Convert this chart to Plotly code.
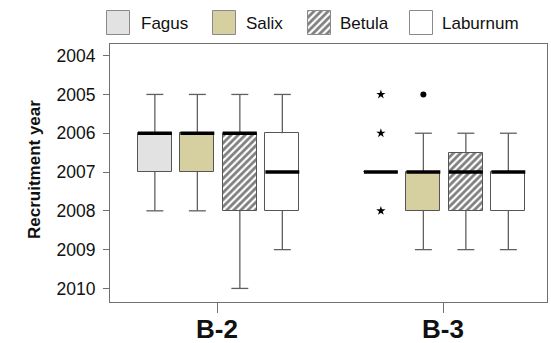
import plotly.graph_objects as go

# ---------------- data ----------------
groups = ["B-2", "B-3"]
species = ["Fagus", "Salix", "Betula", "Laburnum"]
# indexed [species][group]
whisker_min = [[2005, 2007], [2005, 2006], [2005, 2006], [2005, 2006]]
box_q1 = [[2006, 2007], [2006, 2007], [2006, 2006.5], [2006, 2007]]
box_median = [[2006, 2007], [2006, 2007], [2006, 2007], [2007, 2007]]
box_q3 = [[2007, 2007], [2007, 2008], [2008, 2008], [2008, 2008]]
whisker_max = [[2008, 2007], [2008, 2009], [2010, 2009], [2009, 2009]]
# outliers (circle) and extremes (star)
outlier_species = ["Salix"]
outlier_group = ["B-3"]
outlier_year = [2005]
extreme_species = ["Fagus", "Fagus", "Fagus"]
extreme_group = ["B-3", "B-3", "B-3"]
extreme_year = [2005, 2006, 2008]
year_ticks = [2004, 2005, 2006, 2007, 2008, 2009, 2010]

# ---------------- style / layout ----------------
FONT = "Liberation Sans, Arial, sans-serif"
fills = ["#e2e2e2", "#d6cf9f", "white", "white"]
hatched = [False, False, True, False]
GROUP_X = [1, 2]
SLOT = [-0.275, -0.087, 0.101, 0.289]
BOX_W = 0.150
CAP_W = 0.075
EDGE = "#555555"
WHISK = "#606060"
FRAME = "#707070"
PATTERN = dict(shape="/", fgcolor="black", bgcolor="white", size=5, solidity=0.55)

W, H = 551, 343
PLOT_LEFT, PLOT_RIGHT, PLOT_TOP, PLOT_BOTTOM = 110, 547, 44, 302


def pos(si, gi):
    return GROUP_X[gi] + SLOT[si]


fig = go.Figure()

# whiskers
for si, sp in enumerate(species):
    xs, ys = [], []
    for gi in range(len(groups)):
        c = pos(si, gi)
        lo, q1, q3, hi = whisker_min[si][gi], box_q1[si][gi], box_q3[si][gi], whisker_max[si][gi]
        if lo < q1:
            xs += [c, c, None, c - CAP_W / 2, c + CAP_W / 2, None]
            ys += [lo, q1, None, lo, lo, None]
        if hi > q3:
            xs += [c, c, None, c - CAP_W / 2, c + CAP_W / 2, None]
            ys += [q3, hi, None, hi, hi, None]
    fig.add_trace(go.Scatter(x=xs, y=ys, mode="lines", line=dict(color=WHISK, width=1.3),
                             showlegend=False, hoverinfo="skip"))

# boxes
for si, sp in enumerate(species):
    marker = dict(color=fills[si], line=dict(color=EDGE, width=1))
    if hatched[si]:
        marker["pattern"] = PATTERN
    fig.add_trace(go.Bar(
        x=[pos(si, gi) for gi in range(len(groups))],
        base=[box_q1[si][gi] for gi in range(len(groups))],
        y=[box_q3[si][gi] - box_q1[si][gi] for gi in range(len(groups))],
        width=[BOX_W] * len(groups), marker=marker, name=sp, showlegend=False))

# medians
for si, sp in enumerate(species):
    xs, ys = [], []
    for gi in range(len(groups)):
        c = pos(si, gi)
        m = box_median[si][gi]
        xs += [c - BOX_W / 2, c + BOX_W / 2, None]
        ys += [m, m, None]
    fig.add_trace(go.Scatter(x=xs, y=ys, mode="lines", line=dict(color="black", width=3.5),
                             showlegend=False, hoverinfo="skip"))

# outliers / extremes
fig.add_trace(go.Scatter(
    x=[pos(species.index(s), groups.index(g)) for s, g in zip(outlier_species, outlier_group)],
    y=outlier_year, mode="markers", marker=dict(symbol="circle", size=6, color="black"),
    showlegend=False))
fig.add_trace(go.Scatter(
    x=[pos(species.index(s), groups.index(g)) for s, g in zip(extreme_species, extreme_group)],
    y=extreme_year, mode="markers", marker=dict(symbol="star", size=7, color="black"),
    showlegend=False))

# legend drawn on an auxiliary pixel-scaled axis above the plot
LEG_SWATCH_X = [118.5, 224, 319, 421.5]
LEG_TEXT_X = [139, 244, 338, 440]
for si, sp in enumerate(species):
    marker = dict(color=fills[si], line=dict(color="#8a8a8a", width=1))
    if hatched[si]:
        marker["pattern"] = PATTERN
    fig.add_trace(go.Bar(x=[LEG_SWATCH_X[si]], base=[11], y=[24], width=[23], marker=marker,
                         xaxis="x2", yaxis="y2", showlegend=False, hoverinfo="skip"))
    fig.add_annotation(x=LEG_TEXT_X[si], y=23, xref="x2", yref="y2", text=sp, showarrow=False,
                       xanchor="left", yanchor="middle", font=dict(family=FONT, size=17, color="#111"))

fig.add_annotation(x=22.5 / PLOT_RIGHT, y=(PLOT_BOTTOM - 170) / PLOT_BOTTOM, xref="paper", yref="paper",
                   text="Recruitment year", textangle=-90, showarrow=False,
                   font=dict(family=FONT, size=17, color="#111", weight="bold"))

fig.update_layout(
    width=W, height=H,
    margin=dict(l=0, r=W - PLOT_RIGHT, t=0, b=H - PLOT_BOTTOM, pad=0),
    paper_bgcolor="white", plot_bgcolor="white",
    barmode="overlay", bargap=0,
    font=dict(family=FONT, color="#111"),
    hovermode=False,
    xaxis=dict(domain=[PLOT_LEFT / PLOT_RIGHT, 1], range=[0.5265, 2.460], tickvals=GROUP_X, ticktext=groups,
               ticks="outside", ticklen=10, tickcolor=FRAME, showline=True, linecolor=FRAME,
               linewidth=1, mirror=True, showgrid=False, zeroline=False, automargin=False,
               ticklabelstandoff=-6,
               tickfont=dict(family=FONT, size=26, color="#111", weight="bold"), anchor="y"),
    yaxis=dict(domain=[0, (PLOT_BOTTOM - PLOT_TOP) / PLOT_BOTTOM], range=[2010.35, 2003.70],
               tickvals=year_ticks, automargin=False,
               ticks="outside", ticklen=6, tickcolor=FRAME, showline=True, linecolor=FRAME,
               linewidth=1, mirror=True, showgrid=False, zeroline=False, ticklabelstandoff=4,
               tickfont=dict(family=FONT, size=17.5, color="#111"), anchor="x"),
    xaxis2=dict(domain=[0, 1], range=[0, PLOT_RIGHT], visible=False, anchor="y2", automargin=False),
    yaxis2=dict(domain=[(PLOT_BOTTOM - PLOT_TOP) / PLOT_BOTTOM, 1], range=[PLOT_TOP, 0],
                visible=False, anchor="x2", automargin=False),
)

# the page body normally adds an 8px margin; remove it so the figure fills the window
fig.write_html("out.html", config={"displayModeBar": False},
               post_script="document.body.style.margin='0';")
